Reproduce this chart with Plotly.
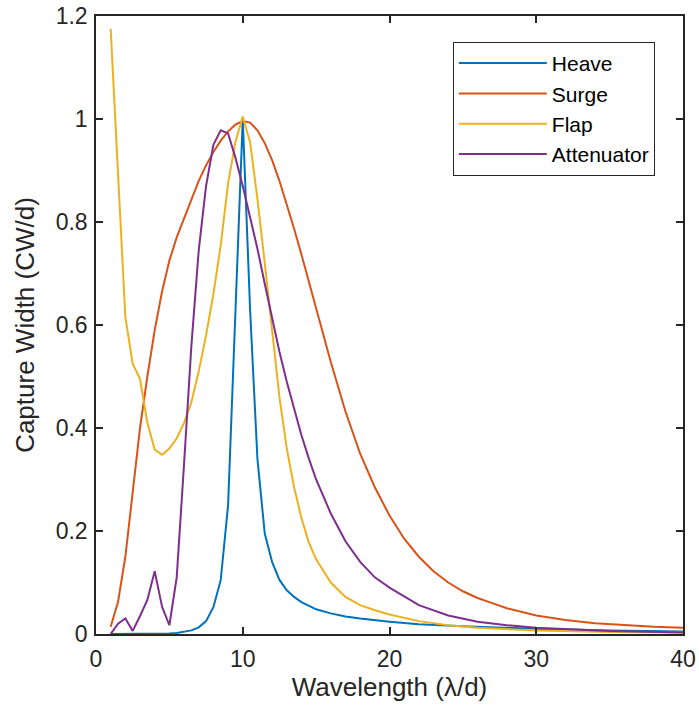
import plotly.graph_objects as go

# ---- data ----
heave_x = [1, 2, 3, 4, 5, 5.5, 6, 6.5, 7, 7.5, 8, 8.5, 9, 9.5, 10, 10.5, 11, 11.5, 12, 12.5, 13, 13.5,
           14, 15, 16, 17, 18, 20, 22, 25, 30, 35, 40]
heave_y = [0, 0, 0.0003, 0.0006, 0.0012, 0.002, 0.004, 0.007, 0.013, 0.025, 0.052, 0.105, 0.25, 0.62, 1.0,
           0.63, 0.34, 0.195, 0.14, 0.105, 0.085, 0.072, 0.062, 0.048, 0.04, 0.034, 0.03, 0.024, 0.019,
           0.015, 0.01, 0.007, 0.005]

surge_x = [1, 1.5, 2, 2.5, 3, 3.5, 4, 4.5, 5, 5.5, 6, 6.5, 7, 7.5, 8, 8.5, 9, 9.5, 10, 10.5, 11, 11.5,
           12, 12.5, 13, 13.5, 14, 15, 16, 17, 18, 19, 20, 21, 22, 23, 24, 25, 26, 27, 28, 30, 32, 34,
           36, 38, 40]
surge_y = [0.014, 0.062, 0.15, 0.28, 0.40, 0.50, 0.59, 0.665, 0.725, 0.77, 0.808, 0.846, 0.88, 0.91,
           0.936, 0.958, 0.976, 0.989, 0.996, 0.993, 0.978, 0.953, 0.92, 0.88, 0.835, 0.787, 0.737,
           0.632, 0.528, 0.432, 0.35, 0.285, 0.23, 0.185, 0.15, 0.122, 0.1, 0.083, 0.07, 0.06, 0.05,
           0.036, 0.027, 0.021, 0.017, 0.014, 0.012]

flap_x = [1, 2, 2.5, 3, 3.5, 4, 4.5, 5, 5.5, 6, 6.5, 7, 7.5, 8, 8.5, 9, 9.5, 10, 10.5, 11, 11.5, 12,
          12.5, 13, 13.5, 14, 14.5, 15, 16, 17, 18, 19, 20, 22, 24, 26, 28, 30, 35, 40]
flap_y = [1.175, 0.615, 0.525, 0.495, 0.41, 0.358, 0.348, 0.36, 0.38, 0.41, 0.45, 0.51, 0.58, 0.66,
          0.755, 0.875, 0.955, 1.005, 0.955, 0.845, 0.72, 0.59, 0.46, 0.36, 0.285, 0.225, 0.178,
          0.145, 0.1, 0.072, 0.056, 0.046, 0.038, 0.025, 0.017, 0.012, 0.009, 0.007, 0.004, 0.003]

atten_x = [1, 1.5, 2, 2.5, 3, 3.5, 4, 4.5, 5, 5.5, 6, 6.5, 7, 7.5, 8, 8.5, 9, 9.5, 10, 10.5, 11, 11.5,
           12, 12.5, 13, 13.5, 14, 14.5, 15, 16, 17, 18, 19, 20, 22, 24, 26, 28, 30, 35, 40]
atten_y = [0, 0.02, 0.03, 0.006, 0.035, 0.066, 0.122, 0.053, 0.017, 0.11, 0.33, 0.56, 0.745, 0.87,
           0.95, 0.978, 0.972, 0.925, 0.87, 0.812, 0.748, 0.68, 0.612, 0.548, 0.49, 0.436, 0.386,
           0.341, 0.3, 0.234, 0.18, 0.14, 0.11, 0.09, 0.056, 0.036, 0.024, 0.017, 0.012, 0.006, 0.003]

series_names = ["Heave", "Surge", "Flap", "Attenuator"]
colors = ["#0072BD", "#D95319", "#EDB120", "#7E2F8E"]

x_ticks = [0, 10, 20, 30, 40]
y_ticks = [0, 0.2, 0.4, 0.6, 0.8, 1.0, 1.2]
y_ticklabels = ["0", "0.2", "0.4", "0.6", "0.8", "1", "1.2"]

# ---- figure ----
fig = go.Figure()
for name, xs, ys, c in zip(series_names,
                           [heave_x, surge_x, flap_x, atten_x],
                           [heave_y, surge_y, flap_y, atten_y],
                           colors):
    fig.add_trace(go.Scatter(x=xs, y=ys, mode="lines", name=name,
                             line=dict(color=c, width=2)))

font_family = "Liberation Sans, Arial, sans-serif"
axis_common = dict(showline=True, linecolor="#262626", linewidth=1.5, mirror="allticks",
                   ticks="inside", ticklen=7, tickwidth=1.5, tickcolor="#262626",
                   showgrid=False, zeroline=False, automargin=False,
                   tickfont=dict(family=font_family, size=23, color="#262626"))

fig.update_layout(
    width=699, height=715,
    margin=dict(l=96, r=16, t=16, b=81),
    paper_bgcolor="white", plot_bgcolor="white",
    font=dict(family=font_family, color="#262626"),
    xaxis=dict(range=[0, 40], tickvals=x_ticks, ticktext=[str(v) for v in x_ticks],
               ticklabelstandoff=4,
               title=dict(text="Wavelength (λ/d)", font=dict(size=26, color="#262626"), standoff=5),
               **axis_common),
    yaxis=dict(range=[0, 1.2], tickvals=y_ticks, ticktext=y_ticklabels,
               ticklabelstandoff=2,
               title=dict(text="Capture Width (CW/d)", font=dict(size=26, color="#262626"), standoff=14),
               **axis_common),
    legend=dict(x=0.952, y=0.958, xanchor="right", yanchor="top",
                bgcolor="white", bordercolor="#262626", borderwidth=1,
                font=dict(family=font_family, size=21, color="#000000"),
                itemwidth=88, tracegroupgap=0),
    showlegend=True,
)

fig.write_html("out.html")
